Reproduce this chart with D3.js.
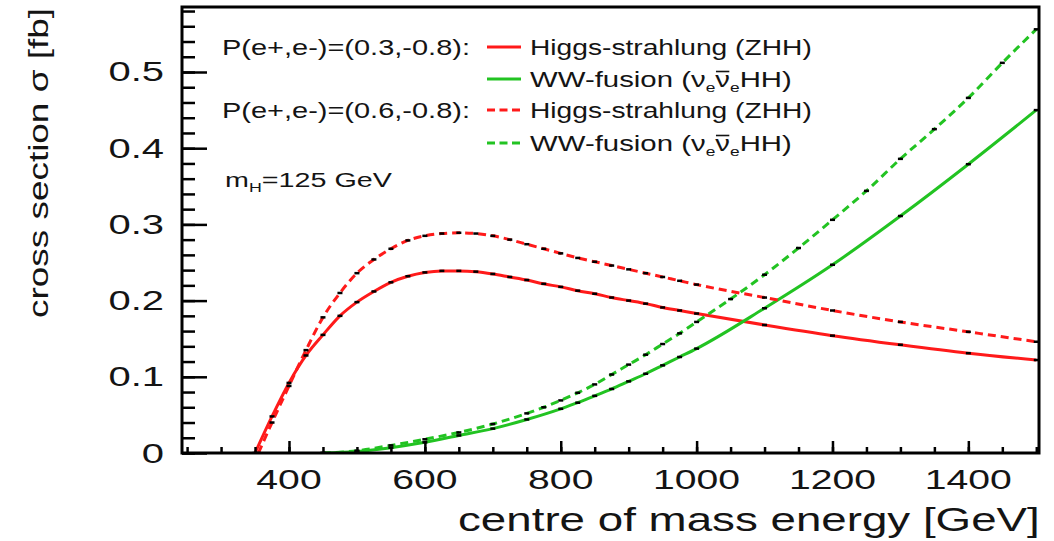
<!DOCTYPE html>
<html><head><meta charset="utf-8">
<script src="https://cdn.jsdelivr.net/npm/d3@7/dist/d3.min.js"></script>
<style>html,body{margin:0;padding:0;background:#fff;} svg{display:block;}</style>
</head><body>
<svg id="c" width="1054" height="541"></svg>
<script>
// ---------------- data ----------------
const xTickValues = [400, 600, 800, 1000, 1200, 1400];
const xTickLabels = ["400", "600", "800", "1000", "1200", "1400"];
const yTickValues = [0, 0.1, 0.2, 0.3, 0.4, 0.5];
const yTickLabels = ["0", "0.1", "0.2", "0.3", "0.4", "0.5"];
const xTitle = "centre of mass energy [GeV]";
const yTitle = "cross section \u03c3 [fb]";
const polLabels = ["P(e+,e-)=(0.3,-0.8):", "P(e+,e-)=(0.6,-0.8):"];
const zhhLabel = "Higgs-strahlung (ZHH)";
const massLabel = "125 GeV";

// Higgs-strahlung, P=(0.3,-0.8)
const zhhA_x = [350,375,400,425,450,475,500,525,550,575,600,625,650,675,700,725,750,775,800,825,850,875,900,925,950,975,1000,1100,1200,1300,1400,1500];
const zhhA_y = [0,0.048,0.092,0.128,0.155,0.180,0.198,0.212,0.224,0.232,0.237,0.239,0.239,0.238,0.235,0.231,0.227,0.222,0.218,0.213,0.209,0.204,0.200,0.196,0.191,0.187,0.183,0.168,0.154,0.142,0.131,0.122];
// Higgs-strahlung, P=(0.6,-0.8)
const zhhB_x = [355,375,400,425,450,475,500,525,550,575,600,625,650,675,700,725,750,775,800,825,850,875,900,925,950,975,1000,1100,1200,1300,1400,1500];
const zhhB_y = [0,0.040,0.088,0.135,0.178,0.210,0.236,0.254,0.268,0.279,0.285,0.288,0.289,0.288,0.285,0.280,0.274,0.268,0.262,0.256,0.251,0.246,0.241,0.236,0.231,0.226,0.221,0.204,0.187,0.172,0.159,0.146];
// WW-fusion, P=(0.3,-0.8)
const wwA_x = [450,500,550,600,650,700,750,800,825,850,875,900,925,950,975,1000,1100,1200,1300,1400,1500];
const wwA_y = [0,0.002,0.007,0.014,0.023,0.032,0.044,0.058,0.066,0.075,0.084,0.094,0.104,0.115,0.126,0.137,0.190,0.247,0.311,0.379,0.450];
// WW-fusion, P=(0.6,-0.8)
const wwB_x = [450,500,550,600,650,700,750,775,800,825,850,875,900,925,950,975,1000,1050,1100,1150,1200,1250,1300,1350,1400,1450,1500];
const wwB_y = [0,0.003,0.010,0.018,0.027,0.038,0.052,0.060,0.069,0.079,0.090,0.103,0.116,0.129,0.143,0.157,0.172,0.202,0.234,0.269,0.306,0.344,0.386,0.425,0.466,0.512,0.556];

// ---------------- drawing ----------------
const svg = d3.select("#c");
svg.append("rect").attr("width", 1054).attr("height", 541).attr("fill", "#fff");
const FONT = "'Liberation Sans', Arial, Helvetica, sans-serif";
const TXT = "#141414";
const RED = "#ff1a1a", GREEN = "#22c322";

const x = d3.scaleLinear().domain([242.5, 1504]).range([182, 1039]);
const y = d3.scaleLinear().domain([0, 0.5853]).range([453, 7]);

svg.append("defs").append("clipPath").attr("id", "clip")
  .append("rect").attr("x", 182).attr("y", 7).attr("width", 857).attr("height", 446);

function fitText(parent, px, py, build, opts) {
  const g = parent.append("g");
  const t = g.append("text").attr("font-family", FONT).attr("font-size", opts.fs)
    .attr("fill", TXT).attr("text-anchor", opts.anchor || "start");
  build(t);
  let sx = opts.sx || 1;
  if (opts.width) {
    const w = t.node().getBBox().width;
    sx = opts.width / w;
  }
  g.attr("transform", `translate(${px},${py})` + (opts.rotate ? ` rotate(${opts.rotate})` : "") + ` scale(${sx},1)`);
  return { g, t };
}

// curves
const line = d3.line().x(d => x(d[0])).y(d => y(d[1])).curve(d3.curveMonotoneX);
const series = [
  { xs: zhhA_x, ys: zhhA_y, color: RED, dash: null },
  { xs: wwA_x, ys: wwA_y, color: GREEN, dash: null },
  { xs: zhhB_x, ys: zhhB_y, color: RED, dash: "8,5" },
  { xs: wwB_x, ys: wwB_y, color: GREEN, dash: "8,5" }
];
const plot = svg.append("g").attr("clip-path", "url(#clip)");
series.forEach(s => {
  const pts = s.xs.map((v, i) => [v, s.ys[i]]);
  plot.append("path").attr("d", line(pts)).attr("fill", "none")
    .attr("stroke", s.color).attr("stroke-width", 3)
    .attr("stroke-dasharray", s.dash);
});
series.forEach(s => {
  const pts = s.xs.map((v, i) => [v, s.ys[i]]);
  plot.selectAll(null).data(pts).enter().append("line")
    .attr("x1", d => x(d[0]) - 2.5).attr("x2", d => x(d[0]) + 2.5)
    .attr("y1", d => y(d[1])).attr("y2", d => y(d[1]))
    .attr("stroke", "#000").attr("stroke-width", 2.5);
});

// axes ticks
const xMinor = d3.range(250, 1501, 50);
const yMinor = d3.range(0, 0.5801, 0.02);
function styleAxis(g) {
  g.select(".domain").remove();
  g.selectAll(".tick line").attr("stroke", "#000").attr("stroke-width", 2.5);
  g.selectAll(".tick text").remove();
}
svg.append("g").attr("transform", "translate(0,453)")
  .call(d3.axisBottom(x).tickValues(xMinor).tickSize(-6).tickFormat("")).call(styleAxis);
svg.append("g").attr("transform", "translate(0,453)")
  .call(d3.axisBottom(x).tickValues(xTickValues).tickSize(-12).tickFormat("")).call(styleAxis);
svg.append("g").attr("transform", "translate(182,0)")
  .call(d3.axisLeft(y).tickValues(yMinor).tickSize(-13).tickFormat("")).call(styleAxis);
svg.append("g").attr("transform", "translate(182,0)")
  .call(d3.axisLeft(y).tickValues(yTickValues).tickSize(-25).tickFormat("")).call(styleAxis);

// frame
svg.append("rect").attr("x", 182).attr("y", 7).attr("width", 857).attr("height", 446)
  .attr("fill", "none").attr("stroke", "#000").attr("stroke-width", 3);

// tick labels
xTickValues.forEach((v, i) => {
  fitText(svg, x(v), 489, t => t.text(xTickLabels[i]), { fs: 27, anchor: "middle", sx: 1.45 });
});
yTickValues.forEach((v, i) => {
  fitText(svg, 164, y(v) + 9.5, t => t.text(yTickLabels[i]), { fs: 27, anchor: "end", sx: 1.48 });
});

// titles
fitText(svg, 458, 531, t => t.text(xTitle), { fs: 33, width: 582 });
fitText(svg, 48, 163, t => t.text(yTitle), { fs: 28, anchor: "middle", rotate: -90, width: 310 });

// legend
const legRows = [
  { yc: 47, color: RED, dash: null, ww: false, pol: 0 },
  { yc: 79, color: GREEN, dash: null, ww: true, pol: null },
  { yc: 110, color: RED, dash: "8,4.5", ww: false, pol: 1 },
  { yc: 143, color: GREEN, dash: "8,4.5", ww: true, pol: null }
];
const leg = svg.append("g");
legRows.forEach(r => {
  leg.append("line").attr("x1", 487).attr("x2", 521).attr("y1", r.yc).attr("y2", r.yc)
    .attr("stroke", r.color).attr("stroke-width", 3).attr("stroke-dasharray", r.dash);
  if (r.pol !== null) {
    fitText(leg, 222, r.yc + 8, t => t.text(polLabels[r.pol]), { fs: 22, width: 248 });
  }
  if (!r.ww) {
    fitText(leg, 530, r.yc + 8, t => t.text(zhhLabel), { fs: 22, width: 282 });
  } else {
    const o = fitText(leg, 530, r.yc + 8, t => {
      t.append("tspan").text("WW-fusion (\u03bd");
      t.append("tspan").attr("font-size", 13).attr("dy", 5).text("e");
      t.append("tspan").attr("dy", -5).text("\u03bd");
      t.append("tspan").attr("font-size", 13).attr("dy", 5).text("e");
      t.append("tspan").attr("dy", -5).text("HH)");
    }, { fs: 22, width: 262 });
    const ext = o.t.node().getExtentOfChar(13);
    o.g.append("line").attr("x1", ext.x + 0.5).attr("x2", ext.x + ext.width - 0.5)
      .attr("y1", -15.5).attr("y2", -15.5).attr("stroke", TXT).attr("stroke-width", 1.6);
  }
});
// m_H label
fitText(leg, 225, 187, t => {
  t.append("tspan").text("m");
  t.append("tspan").attr("font-size", 13).attr("dy", 5).text("H");
  t.append("tspan").attr("dy", -5).text("=" + massLabel);
}, { fs: 21, width: 167 });
</script>
</body></html>
